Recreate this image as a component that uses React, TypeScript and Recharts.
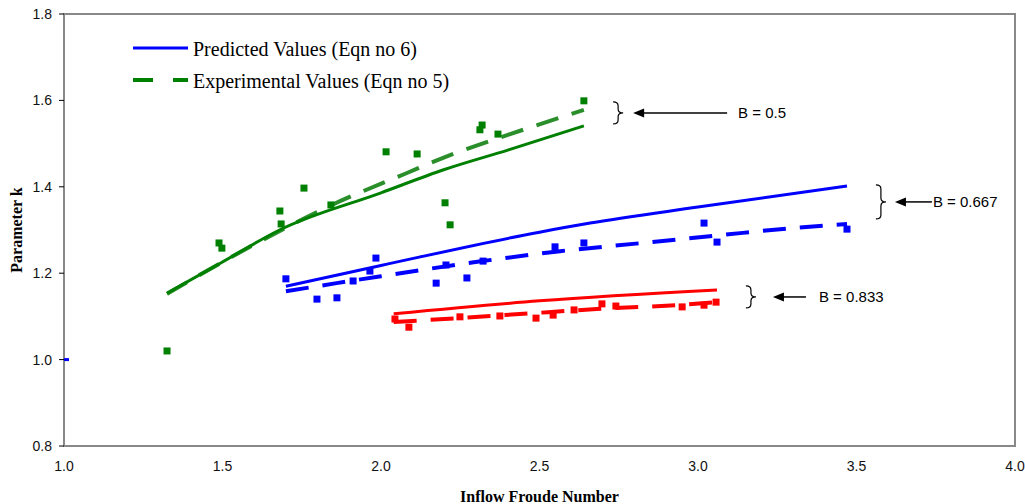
import { ComposedChart, Line, Scatter, XAxis, YAxis, ReferenceArea, ReferenceDot, Legend } from "recharts"

// Inflow Froude number (x) and parameter k (y)
const greenPointX = [1.325, 1.489, 1.498, 1.681, 1.685, 1.757, 1.842, 2.016, 2.114, 2.202, 2.218, 2.312, 2.319, 2.369, 2.64]
const greenPointY = [1.02, 1.27, 1.258, 1.344, 1.314, 1.397, 1.358, 1.481, 1.476, 1.363, 1.312, 1.532, 1.543, 1.522, 1.599]
const greenPredX = [1.325, 1.5, 1.68, 2.0, 2.2, 2.4, 2.64]
const greenPredY = [1.154, 1.226, 1.3, 1.386, 1.44, 1.485, 1.541]
const greenExpX = [1.325, 1.609, 1.845, 2.082, 2.196, 2.4, 2.64]
const greenExpY = [1.152, 1.27, 1.358, 1.432, 1.467, 1.52, 1.578]

const bluePointX = [1.7, 1.798, 1.861, 1.912, 1.965, 1.984, 2.174, 2.205, 2.271, 2.322, 2.549, 2.64, 3.019, 3.06, 3.47]
const bluePointY = [1.187, 1.14, 1.143, 1.182, 1.205, 1.235, 1.177, 1.219, 1.189, 1.228, 1.261, 1.27, 1.316, 1.272, 1.302]
const bluePredX = [1.7, 2.0, 2.5, 2.66, 3.0, 3.47]
const bluePredY = [1.17, 1.218, 1.295, 1.316, 1.353, 1.402]
const blueExpX = [1.7, 1.86, 2.0, 2.32, 2.565, 2.826, 3.07, 3.306, 3.47]
const blueExpY = [1.158, 1.177, 1.193, 1.228, 1.251, 1.27, 1.288, 1.305, 1.314]

const redPointX = [2.044, 2.088, 2.249, 2.375, 2.489, 2.543, 2.609, 2.697, 2.741, 2.95, 3.019, 3.057]
const redPointY = [1.094, 1.075, 1.099, 1.101, 1.096, 1.103, 1.115, 1.129, 1.124, 1.122, 1.126, 1.133]
const redPredX = [2.04, 2.5, 3.06]
const redPredY = [1.106, 1.136, 1.161]
const redExpX = [2.04, 2.2, 2.45, 2.68, 2.93, 3.06]
const redExpY = [1.087, 1.094, 1.106, 1.117, 1.126, 1.133]

const originX = [1.0]
const originY = [1.0]

const xTicks = [1.0, 1.5, 2.0, 2.5, 3.0, 3.5, 4.0]
const yTicks = [0.8, 1.0, 1.2, 1.4, 1.6, 1.8]

const legendLabels = ["Predicted Values (Eqn no 6)", "Experimental Values (Eqn no 5)"]

// B labels and where their brackets sit (data coords)
const annotationLabels = ["B = 0.5", "B = 0.667", "B = 0.833"]
const annotationX = [2.748, 3.577, 3.167]
const annotationY = [1.571, 1.365, 1.145]

// pixel layout of each bracket/arrow: [half height, arrow head, arrow tail, text]
const annotationLayout = [
  [11, 15, 109, 120],
  [17, 14, 51, 52],
  [11, 22, 55, 68],
]

const toPoints = (xs: number[], ys: number[]) => xs.map((x, i) => ({ x, y: ys[i] }))

const GREEN = "#008000"
const BLUE = "#0000ff"
const RED = "#ff0000"
const DASH = "23 14"

const Square = (props: any) => {
  const { cx, cy, fill } = props
  return <rect x={cx - 3.5} y={cy - 3.5} width={7} height={7} fill={fill} />
}

const Dash = (props: any) => {
  const { cx, cy } = props
  return (
    <g>
      <line x1={cx - 4} y1={cy} x2={cx} y2={cy} stroke="#1a9a9a" strokeWidth={2} />
      <line x1={cx} y1={cy} x2={cx + 5} y2={cy} stroke={BLUE} strokeWidth={3} />
    </g>
  )
}

function makeAnnotation(label: string, layout: number[]) {
  const [h, head, tail, textAt] = layout
  return (props: any) => {
    const { cx, cy } = props
    const brace = `M${cx - 5},${cy - h} Q${cx},${cy - h} ${cx},${cy - h + 4} L${cx},${cy - 4} Q${cx},${cy} ${cx + 5},${cy} Q${cx},${cy} ${cx},${cy + 4} L${cx},${cy + h - 4} Q${cx},${cy + h} ${cx - 5},${cy + h}`
    return (
      <g>
        <path d={brace} fill="none" stroke="#000" strokeWidth={1.2} />
        <line x1={cx + head + 8} y1={cy} x2={cx + tail} y2={cy} stroke="#000" strokeWidth={1.5} />
        <polygon
          points={`${cx + head},${cy} ${cx + head + 11},${cy - 4.5} ${cx + head + 11},${cy + 4.5}`}
          fill="#000"
        />
        <text
          x={cx + textAt}
          y={cy}
          dominantBaseline="central"
          fontFamily="'Liberation Sans', Arial, sans-serif"
          fontSize={15}
          fill="#000"
        >
          {label}
        </text>
      </g>
    )
  }
}

function LegendBox() {
  return (
    <svg width={360} height={60} style={{ display: "block" }}>
      <line x1={3} y1={12} x2={58} y2={12} stroke={BLUE} strokeWidth={3} />
      <line x1={3} y1={44} x2={58} y2={44} stroke={GREEN} strokeWidth={4} strokeDasharray="20 20" />
      {legendLabels.map((label, i) => (
        <text
          key={label}
          x={63}
          y={13 + i * 32}
          dominantBaseline="central"
          fontFamily="'Liberation Serif', 'Times New Roman', serif"
          fontSize={20}
          fill="#000"
        >
          {label}
        </text>
      ))}
    </svg>
  )
}

const tickStyle = { fontFamily: "'Liberation Sans', Arial, sans-serif", fontSize: 14, fill: "#111" }
const titleStyle = { fontFamily: "'Liberation Serif', 'Times New Roman', serif", fontSize: 16, fontWeight: "bold", fill: "#000" }

export default function App() {
  return (
    <div style={{ position: "absolute", left: 0, top: 0, background: "#fff" }}>
      <ComposedChart width={1025} height={504} margin={{ top: 14, right: 10, bottom: 2, left: 12 }}>
        <XAxis
          type="number"
          dataKey="x"
          domain={[1, 4]}
          ticks={xTicks}
          tickFormatter={(v: number) => v.toFixed(1)}
          tick={tickStyle}
          tickLine={false}
          tickSize={0}
          tickMargin={15}
          axisLine={{ stroke: "#888", strokeWidth: 2 }}
          height={56}
          allowDataOverflow
          label={{ value: "Inflow Froude Number", position: "insideBottom", offset: 0, style: titleStyle }}
        />
        <YAxis
          type="number"
          dataKey="y"
          domain={[0.8, 1.8]}
          ticks={yTicks}
          tickFormatter={(v: number) => v.toFixed(1)}
          tick={tickStyle}
          tickLine={{ stroke: "#000" }}
          tickSize={5}
          tickMargin={7}
          axisLine={false}
          width={52}
          allowDataOverflow
          label={{
            value: "Parameter k",
            angle: -90,
            position: "insideLeft",
            offset: 4,
            style: { ...titleStyle, textAnchor: "middle" },
          }}
        />
        <ReferenceArea x1={1} x2={4} y1={0.8} y2={1.8} fill="none" stroke="#888" strokeWidth={2} />
        <ReferenceArea x1={1} x2={1} y1={0.8} y2={1.8} fill="none" stroke="#000" strokeWidth={1.5} ifOverflow="visible" />
        <Legend
          layout="vertical"
          align="center"
          verticalAlign="middle"
          wrapperStyle={{ top: 36, left: 130, width: 360 }}
          content={() => <LegendBox />}
        />

        <Line data={toPoints(greenExpX, greenExpY)} dataKey="y" type="monotone" stroke="#2a8f2a" strokeWidth={4} strokeDasharray={DASH} dot={false} isAnimationActive={false} />
        <Line data={toPoints(greenPredX, greenPredY)} dataKey="y" type="monotone" stroke={GREEN} strokeWidth={3} dot={false} isAnimationActive={false} />
        <Line data={toPoints(blueExpX, blueExpY)} dataKey="y" type="monotone" stroke={BLUE} strokeWidth={4} strokeDasharray={DASH} dot={false} isAnimationActive={false} />
        <Line data={toPoints(bluePredX, bluePredY)} dataKey="y" type="monotone" stroke={BLUE} strokeWidth={3} dot={false} isAnimationActive={false} />
        <Line data={toPoints(redExpX, redExpY)} dataKey="y" type="monotone" stroke={RED} strokeWidth={4} strokeDasharray={DASH} dot={false} isAnimationActive={false} />
        <Line data={toPoints(redPredX, redPredY)} dataKey="y" type="monotone" stroke={RED} strokeWidth={3} dot={false} isAnimationActive={false} />

        <Scatter data={toPoints(greenPointX, greenPointY)} dataKey="y" fill={GREEN} shape={Square} isAnimationActive={false} />
        <Scatter data={toPoints(bluePointX, bluePointY)} dataKey="y" fill={BLUE} shape={Square} isAnimationActive={false} />
        <Scatter data={toPoints(redPointX, redPointY)} dataKey="y" fill={RED} shape={Square} isAnimationActive={false} />
        <Scatter data={toPoints(originX, originY)} dataKey="y" fill={BLUE} shape={Dash} isAnimationActive={false} />

        {annotationLabels.map((label, i) => (
          <ReferenceDot
            key={label}
            x={annotationX[i]}
            y={annotationY[i]}
            r={0}
            ifOverflow="visible"
            shape={makeAnnotation(label, annotationLayout[i])}
          />
        ))}
      </ComposedChart>
    </div>
  )
}
